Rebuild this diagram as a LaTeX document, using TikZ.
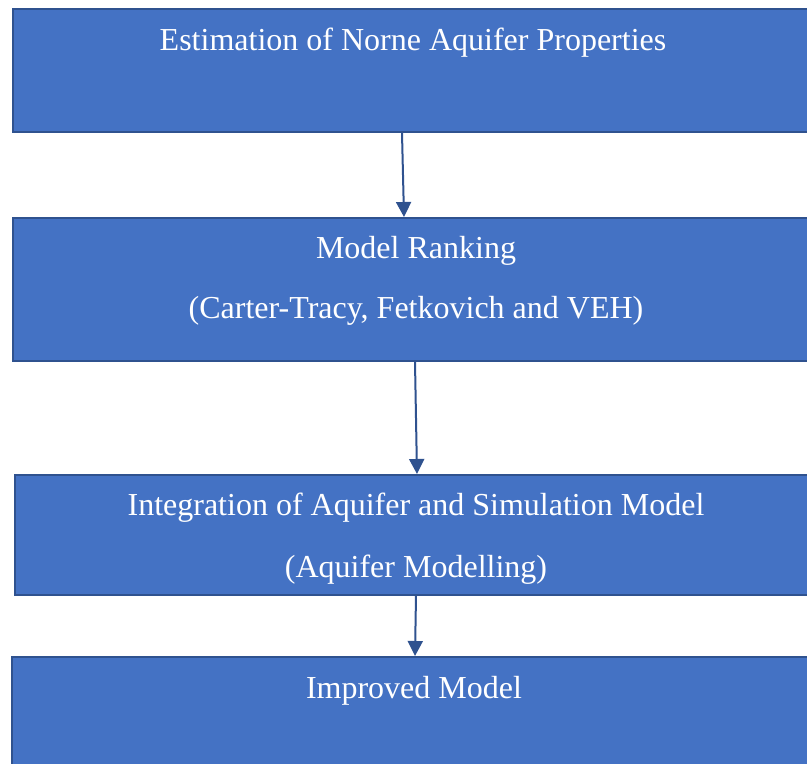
\documentclass[tikz,border=0pt]{standalone}
\usepackage{fontspec}
\setmainfont{Liberation Serif}
\usepackage{tikz}
\usetikzlibrary{arrows.meta,positioning,calc}
\definecolor{boxfill}{HTML}{4472C4}
\definecolor{boxline}{HTML}{2F528F}
\tikzstyle{stage} = [rectangle, draw=boxline, fill=boxfill, line width=2pt, anchor=north west, minimum width=806pt]
\tikzstyle{caption} = [anchor=base, text=white, inner sep=0pt, font=\fontsize{32}{38}\selectfont]
\tikzstyle{flow} = [draw=boxline, line width=2pt, -{Triangle[length=15pt,width=15pt]}]

\begin{document}
\begin{tikzpicture}[x=1pt, y=-1pt]
    \useasboundingbox (0,0) rectangle (807,764);
    \clip (0,0) rectangle (807,764);

    \node[stage, minimum height=123pt] (est) at (12,8) {};
    \node[caption] (estT) at (413,50) {Estimation of Norne Aquifer Properties};

    \node[stage, minimum height=143pt] (rank) at (12,217) {};
    \node[caption] (rankT) at (416,258) {Model Ranking};
    \node[caption] (rankS) at (416,318) {(Carter-Tracy, Fetkovich and VEH)};

    \node[stage, minimum width=804pt, minimum height=120pt] (integ) at (14,474) {};
    \node[caption] (integT) at (416,515) {Integration of Aquifer and Simulation Model};
    \node[caption] (integS) at (416,577) {(Aquifer Modelling)};

    \node[stage, minimum width=807pt, minimum height=140pt] (impr) at (11,656) {};
    \node[caption] (imprT) at (414,698) {Improved Model};

    \draw[flow] ([xshift=-14pt]est.south) -- ([xshift=-12pt]rank.north);
    \draw[flow] ([xshift=-1pt]rank.south) -- (integ.north);
    \draw[flow] ([xshift=-1pt]integ.south) -- ([xshift=-0.5pt]impr.north);
\end{tikzpicture}
\end{document}
